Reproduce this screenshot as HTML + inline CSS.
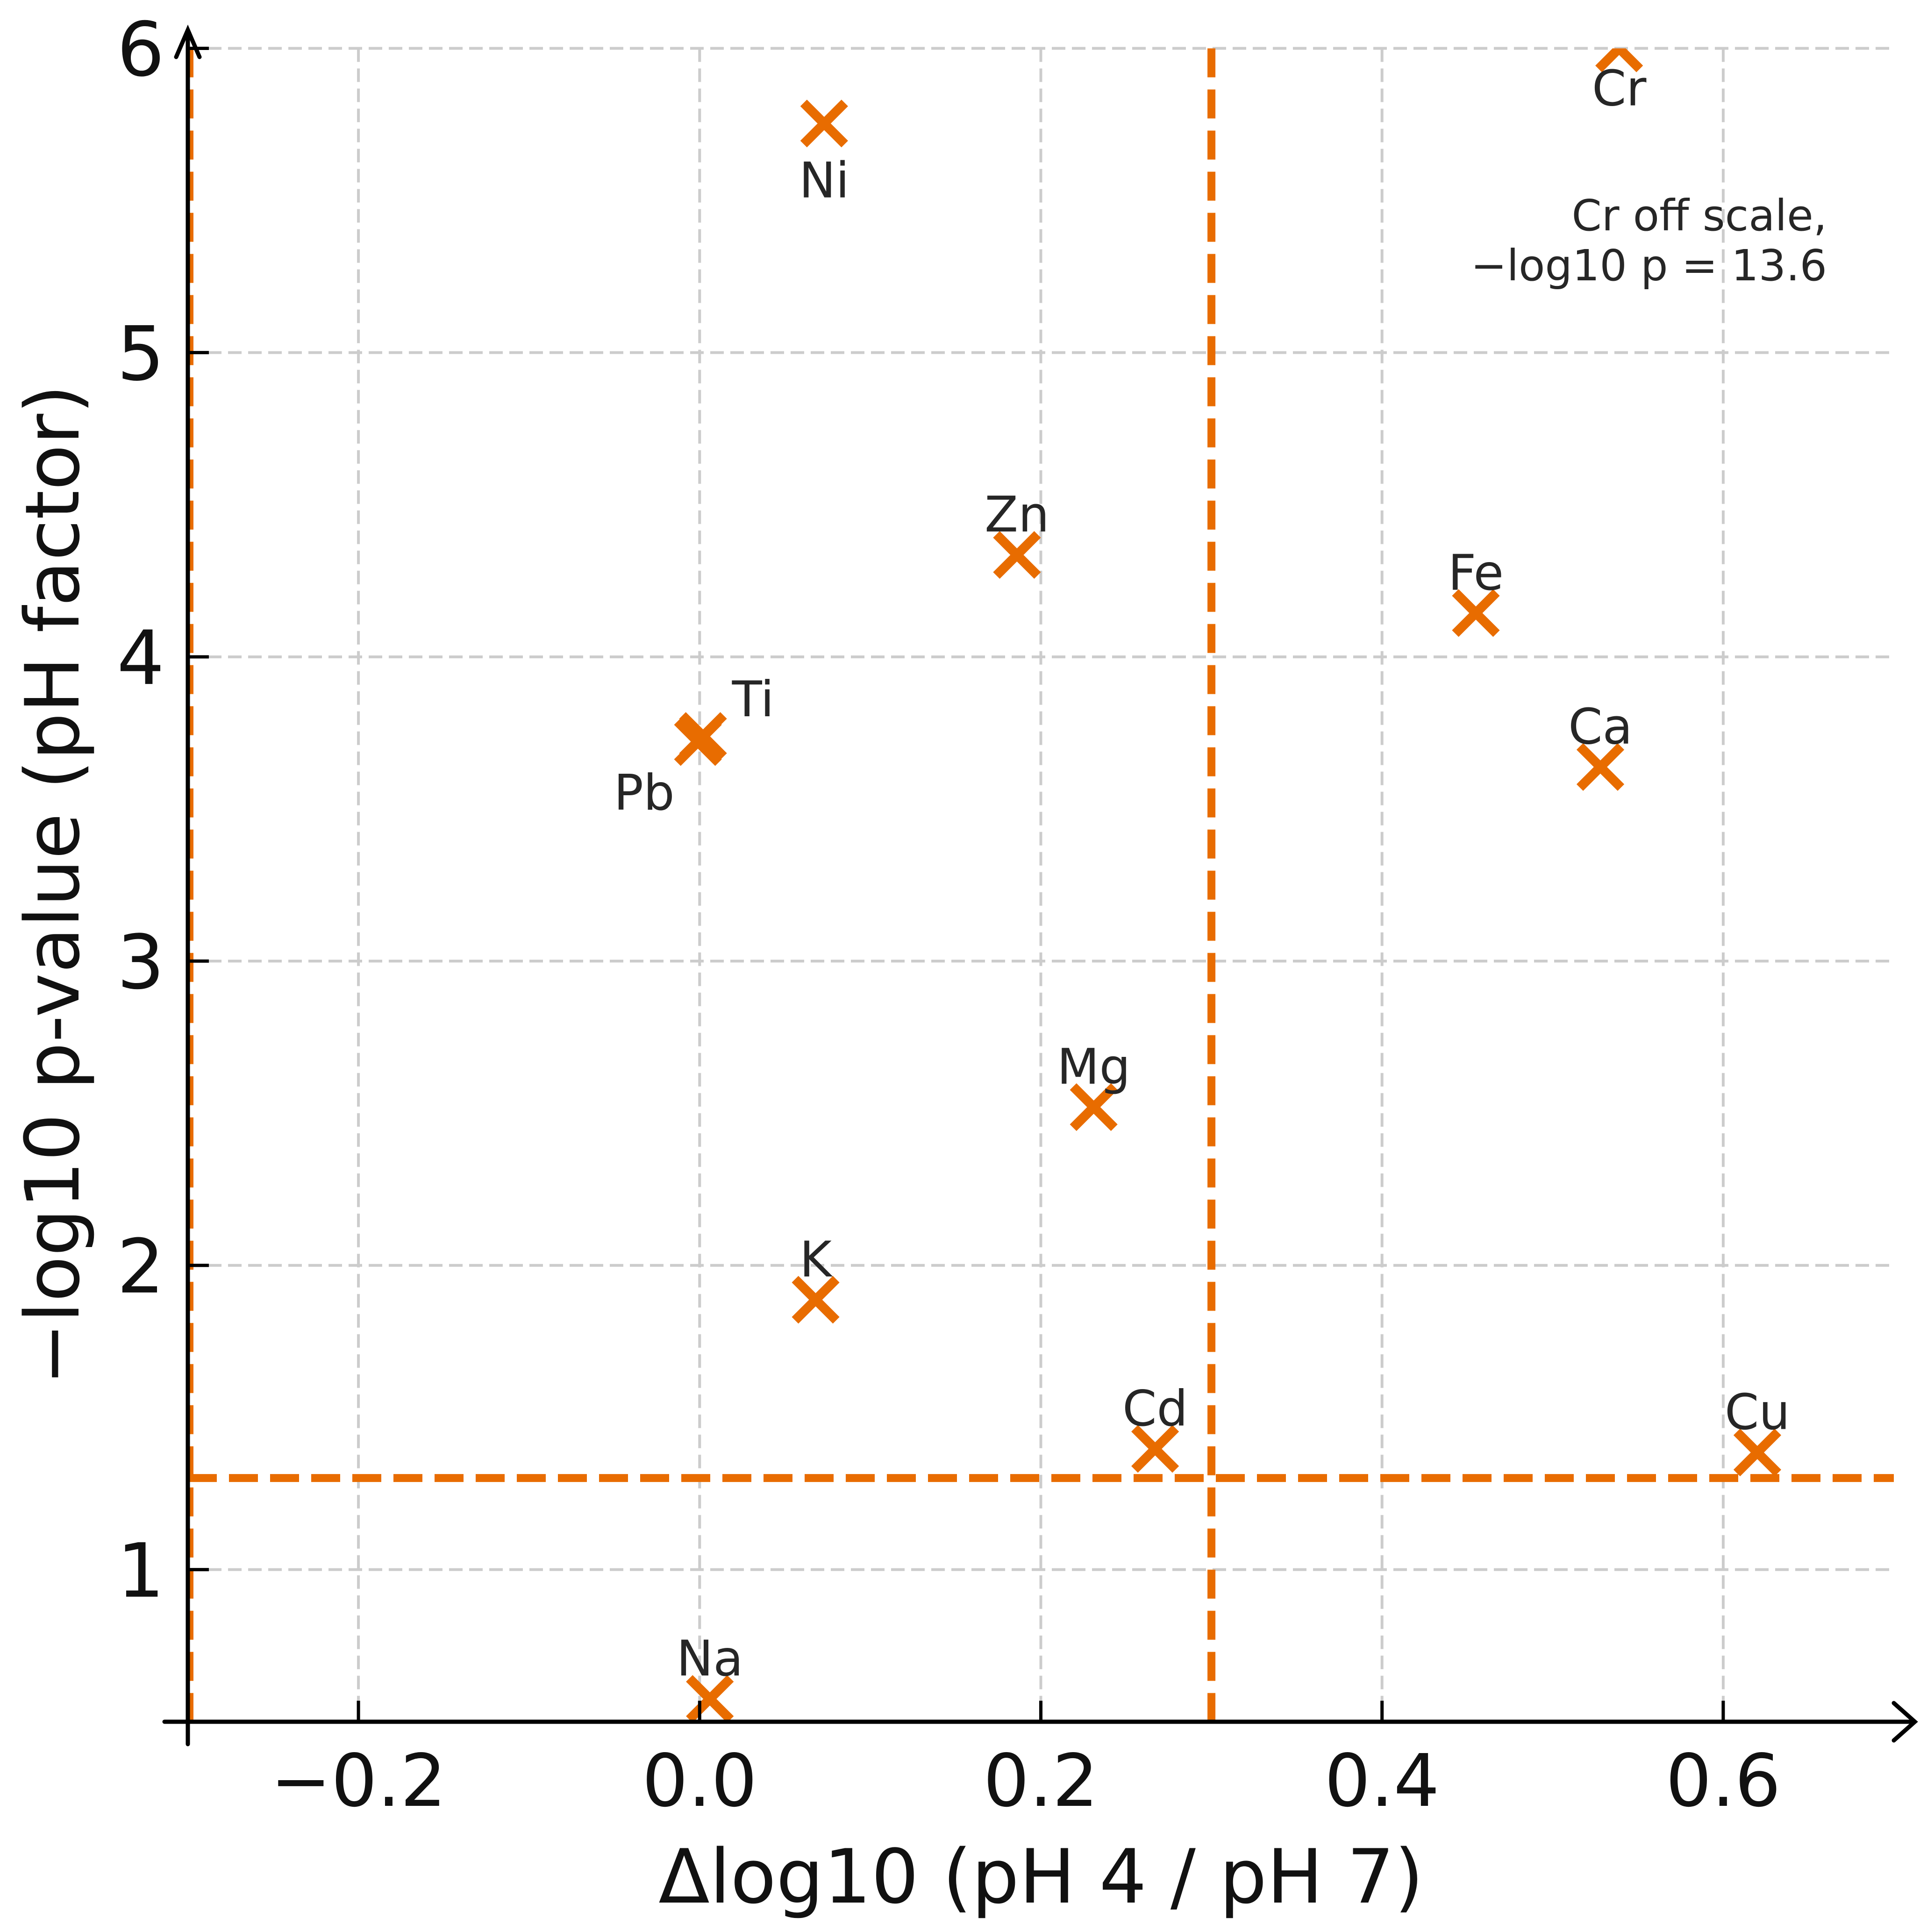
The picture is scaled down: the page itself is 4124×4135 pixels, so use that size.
<!DOCTYPE html>
<html><head><meta charset="utf-8"><style>
html,body{margin:0;padding:0;background:#fff}
svg{display:block}
text{font-family:"DejaVu Sans","Liberation Sans",sans-serif}
</style></head><body>
<svg id="chart" width="4124" height="4135" viewBox="0 0 4124 4135" xmlns="http://www.w3.org/2000/svg">
<defs><clipPath id="plotclip"><rect x="402" y="103.5" width="3651" height="3582"/></clipPath></defs>
<g id="grid"></g>
<g id="refs"></g>
<g id="marks" clip-path="url(#plotclip)"></g>
<g id="labels"></g>
<g id="axes"></g>
<text x="3910" y="493" text-anchor="end" font-size="92" fill="#262626">Cr off scale,</text>
<text x="3910" y="600" text-anchor="end" font-size="92" fill="#262626">−log10 p = 13.6</text>
<text x="2228" y="4072" text-anchor="middle" font-size="160" fill="#111">Δlog10 (pH 4 / pH 7)</text>
<text transform="translate(168,1894) rotate(-90)" text-anchor="middle" font-size="160" fill="#111">−log10 p-value (pH factor)</text>
</svg>
<script>
const elements = ["Ni","Zn","Fe","Ca","Ti","Pb","Mg","K","Cd","Cu","Na","Cr"];
const deltaLog = [0.073,0.186,0.455,0.528,0.002,-0.001,0.231,0.068,0.267,0.620,0.006,0.539];
const negLogP = [5.753,4.335,4.144,3.638,3.74,3.72,2.52,1.887,1.397,1.385,0.575,13.6];
const labelPos = ["below","above","above","above","ur","ll","above","above","above","above","above","below"];
const xTicks = [-0.2,0.0,0.2,0.4,0.6];
const xTickLabels = ["−0.2","0.0","0.2","0.4","0.6"];
const yTicks = [1,2,3,4,5,6];
const yTickLabels = ["1","2","3","4","5","6"];
const pThreshold = 1.301;
const fcThreshold = 0.3;
const xMin=-0.3,xMax=0.7,yMin=0.5,yMax=6;

const L=402,R=4053,T=103.5,B=3685;
const X=v=>L+(v-xMin)/(xMax-xMin)*(R-L);
const Y=v=>B-(v-yMin)/(yMax-yMin)*(B-T);
const NS="http://www.w3.org/2000/svg";
function mk(tag,attrs,parent){const e=document.createElementNS(NS,tag);for(const k in attrs)e.setAttribute(k,attrs[k]);parent.appendChild(e);return e;}
const grid=document.getElementById('grid'),refs=document.getElementById('refs'),marks=document.getElementById('marks'),labels=document.getElementById('labels'),axes=document.getElementById('axes');
const ORANGE="#e86c00";

xTicks.forEach((t,i)=>{
  const g=mk('line',{x1:X(t),x2:X(t),y1:T,y2:B,stroke:"#cccccc","stroke-width":6,"stroke-dasharray":"29 14"},grid);
  
  
  const tk=mk('line',{x1:X(t),x2:X(t),y1:B,y2:B-45,stroke:"#000","stroke-width":7},axes);
  
  
  const tx=mk('text',{x:X(t),y:3865,"text-anchor":"middle","font-size":155,fill:"#111"},axes);
  tx.textContent=xTickLabels[i];
  
  
});
yTicks.forEach((t,i)=>{
  const g=mk('line',{x1:L,x2:R,y1:Y(t),y2:Y(t),stroke:"#cccccc","stroke-width":6,"stroke-dasharray":"29 14"},grid);
  
  
  const tk=mk('line',{x1:L,x2:L+45,y1:Y(t),y2:Y(t),stroke:"#000","stroke-width":7},axes);
  
  
  const tx=mk('text',{x:352,y:Y(t)+58,"text-anchor":"end","font-size":160,fill:"#111"},axes);
  tx.textContent=yTickLabels[i];
  
  
});

const h=mk('line',{x1:L,x2:R,y1:Y(pThreshold),y2:Y(pThreshold),stroke:ORANGE,"stroke-width":17,"stroke-dasharray":"62 26"},refs);


const v=mk('line',{x1:X(fcThreshold),x2:X(fcThreshold),y1:T,y2:B,stroke:ORANGE,"stroke-width":17,"stroke-dasharray":"62 26"},refs);


const v2=mk('line',{x1:X(-fcThreshold)+8,x2:X(-fcThreshold)+8,y1:T,y2:B,stroke:ORANGE,"stroke-width":8,"stroke-dasharray":"62 26"},refs);



elements.forEach((el,i)=>{
  const cx=X(deltaLog[i]),cy=Y(Math.min(negLogP[i],yMax)),s=44;
  const m=mk('path',{d:`M${cx-s},${cy-s}L${cx+s},${cy+s}M${cx-s},${cy+s}L${cx+s},${cy-s}`,stroke:ORANGE,"stroke-width":20,fill:"none"},marks);
  
  
  let lx=cx,ly,anchor="middle";
  const p=labelPos[i];
  if(p==="above"){ly=cy-50;}
  else if(p==="below"){ly=cy+(el==="Cr"?122:158);}
  else if(p==="ur"){lx=cx+62;ly=cy-42;anchor="start";}
  else {lx=cx-50;ly=cy+145;anchor="end";}
  const t=mk('text',{x:lx,y:ly,"text-anchor":anchor,"font-size":105,fill:"#262626"},labels);
  t.textContent=el;
  
  
});

const xa=mk('path',{d:`M352,${B}L4093,${B}M4053,${B-40}L4098,${B}L4053,${B+40}`,stroke:"#000","stroke-width":9,fill:"none","stroke-linecap":"round"},axes);


const ya=mk('path',{d:`M${L},3733L${L},64M${L-25},122L${L},64L${L+25},122`,stroke:"#000","stroke-width":9,fill:"none","stroke-linecap":"round"},axes);


</script>
</body></html>
